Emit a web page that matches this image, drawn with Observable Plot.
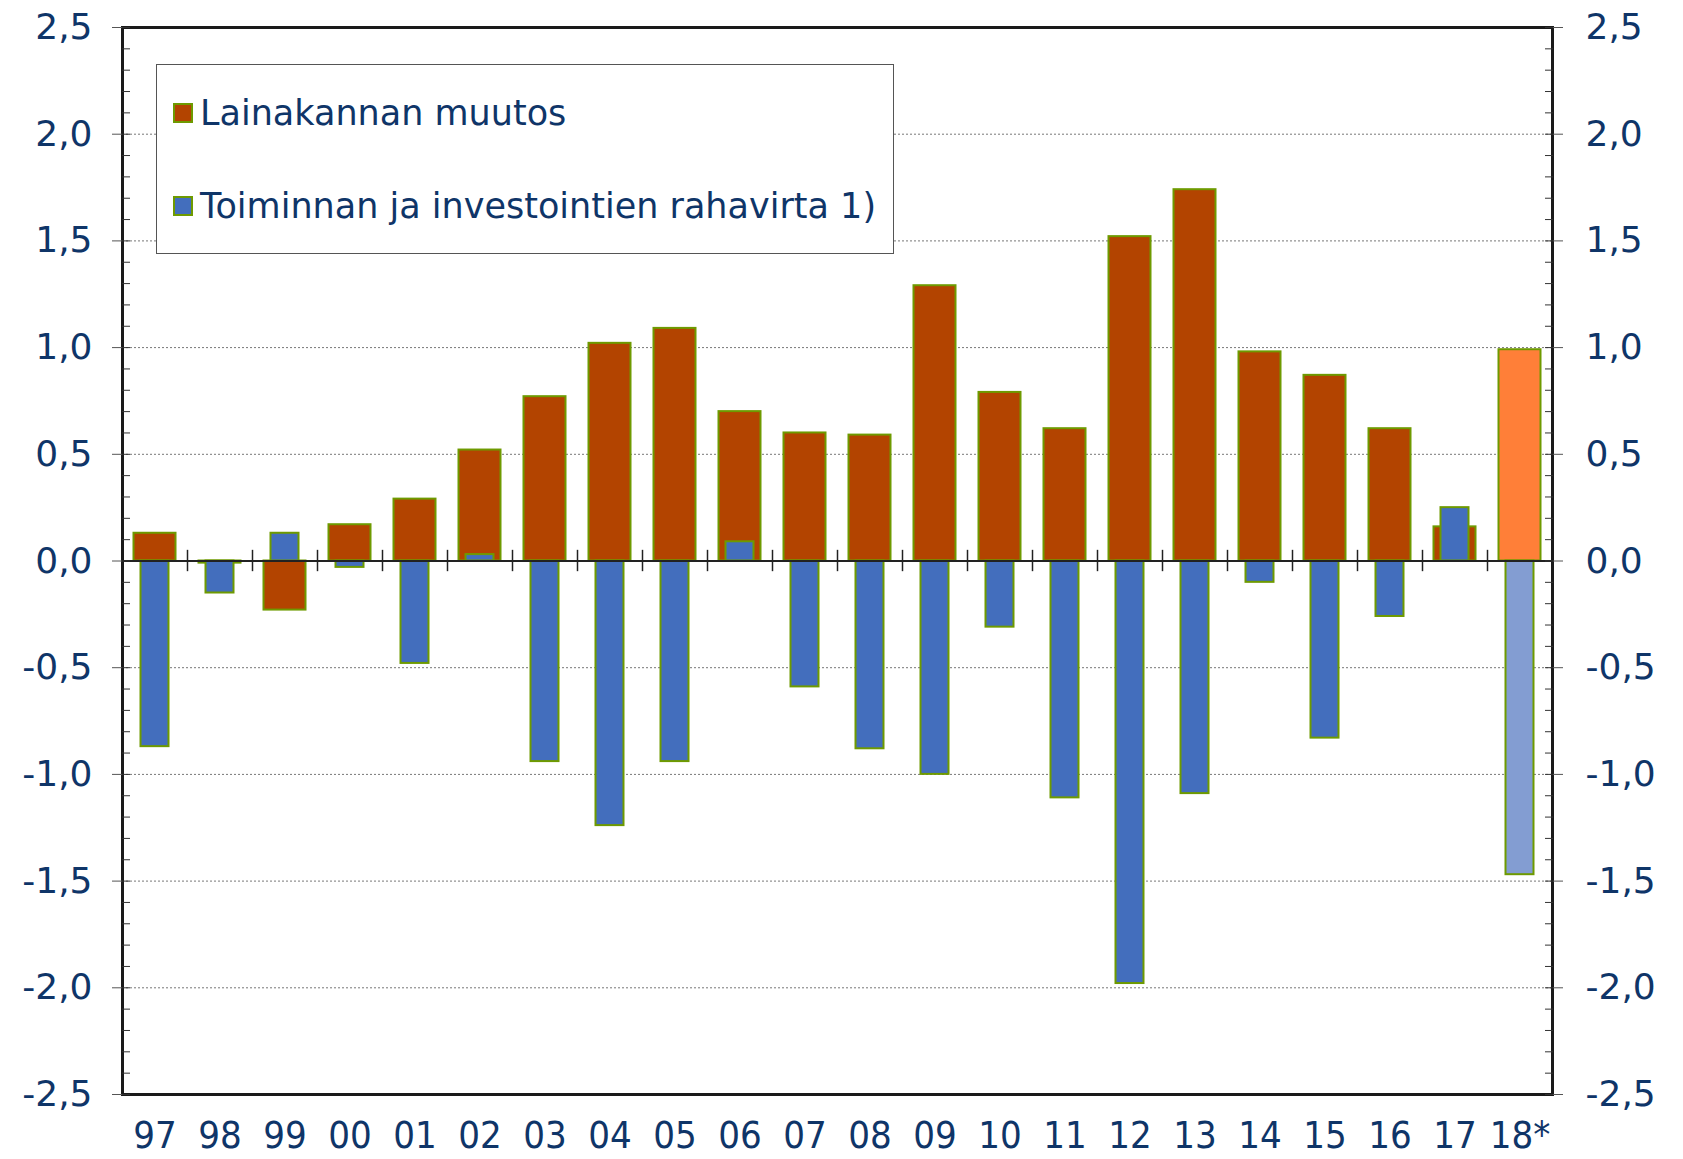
<!DOCTYPE html>
<html><head><meta charset="utf-8">
<script src="https://cdn.jsdelivr.net/npm/d3@7"></script>
<script src="https://cdn.jsdelivr.net/npm/@observablehq/plot@0.6"></script>
<style>
body{margin:0;background:#fff;}
#wrap{position:relative;width:1683px;height:1159px;}
#legend{position:absolute;left:156px;top:64px;width:736px;height:188px;border:1px solid #555;background:#fff;font-family:"DejaVu Sans";font-size:35px;color:#0f3568;}
.item{position:absolute;left:16px;display:flex;align-items:center;height:40px;white-space:nowrap;}
.sw{width:16px;height:16px;border:2px solid #6e9a00;margin-right:7px;flex:none;}
</style></head>
<body><div id="wrap"><div id="chart"></div><div id="legend"></div></div>
<script>
const years = ["97","98","99","00","01","02","03","04","05","06","07","08","09","10","11","12","13","14","15","16","17","18*"];
const lainakanta = [0.13,-0.01,-0.23,0.17,0.29,0.52,0.77,1.02,1.09,0.70,0.60,0.59,1.29,0.79,0.62,1.52,1.74,0.98,0.87,0.62,0.16,0.99];
const rahavirta = [-0.87,-0.15,0.13,-0.03,-0.48,0.03,-0.94,-1.24,-0.94,0.09,-0.59,-0.88,-1.00,-0.31,-1.11,-1.98,-1.09,-0.10,-0.83,-0.26,0.25,-1.47];
const seriesNames = ["Lainakannan muutos","Toiminnan ja investointien rahavirta 1)"];
const yTicks = [-2.5,-2.0,-1.5,-1.0,-0.5,0.0,0.5,1.0,1.5,2.0,2.5];
const yMinor = d3.range(-25, 26).map(i => i / 10);
const forecastYear = "18*";

const W = 1683, H = 1159, mL = 122, mR = 131, mT = 27, mB = 65;
const bw = (W - mL - mR) / years.length;
const navy = "#0f3568", edge = "#6e9a00";
const colRed = "#b34400", colRedF = "#ff7f38", colBlue = "#436ebd", colBlueF = "#839dd2";
const fmt = d => d.toFixed(1).replace(".", ",");

const redData = years.map((y, i) => ({year: y, v: lainakanta[i]}));
const blueData = years.map((y, i) => ({year: y, v: rahavirta[i]}));

const chart = Plot.plot({
  width: W, height: H,
  marginLeft: mL, marginRight: mR, marginTop: mT, marginBottom: mB,
  style: {fontFamily: "DejaVu Sans", fontSize: "36px", color: navy, background: "#fff"},
  x: {type: "band", domain: years, padding: 0},
  y: {domain: [-2.5, 2.5]},
  marks: [
    Plot.gridY(yTicks.filter(d => Math.abs(d) !== 2.5 && d !== 0), {stroke: "#777", strokeOpacity: 1, strokeWidth: 1, strokeDasharray: "2,2"}),
    Plot.barY(redData, {x: "year", y: "v", fill: d => d.year === forecastYear ? colRedF : colRed, stroke: edge, strokeWidth: 2, insetLeft: 11.5, insetRight: 11.5}),
    Plot.barY(blueData, {x: "year", y: "v", fill: d => d.year === forecastYear ? colBlueF : colBlue, stroke: edge, strokeWidth: 2, insetLeft: 18.5, insetRight: 18.5}),
    Plot.ruleY([0], {stroke: "#222", strokeWidth: 2}),
    Plot.ruleX(years.slice(0, -1), {x: d => d, y1: -0.05, y2: 0.05, dx: bw / 2, stroke: "#222", strokeWidth: 1.5}),
    Plot.frame({stroke: "#1a1a1a", strokeWidth: 3}),
    Plot.axisY(yTicks, {anchor: "left", tickSize: 10, tickPadding: 20, tickFormat: fmt, stroke: "#555", fill: navy, label: null}),
    Plot.axisY(yTicks, {anchor: "right", tickSize: 10, tickPadding: 23, tickFormat: fmt, stroke: "#555", fill: navy, label: null}),
    Plot.axisY(yMinor, {anchor: "left", tickSize: 8, dx: 8, fill: "none", stroke: "#333", label: null}),
    Plot.axisY(yMinor, {anchor: "right", tickSize: 8, dx: -8, fill: "none", stroke: "#333", label: null}),
    Plot.axisX({anchor: "bottom", tickSize: 0, tickPadding: 27, fill: navy, label: null, fontFamily: "DejaVu Sans Condensed", fontSize: 38})
  ]
});
document.getElementById("chart").appendChild(chart);

const lg = document.getElementById("legend");
const legendColors = [colRed, colBlue];
const legendTops = [28, 121];
seriesNames.forEach((name, i) => {
  const it = document.createElement("div");
  it.className = "item";
  it.style.top = legendTops[i] + "px";
  const sw = document.createElement("div");
  sw.className = "sw";
  sw.style.background = legendColors[i];
  const tx = document.createElement("span");
  tx.textContent = name;
  it.appendChild(sw); it.appendChild(tx);
  lg.appendChild(it);
});
</script>
</body></html>
